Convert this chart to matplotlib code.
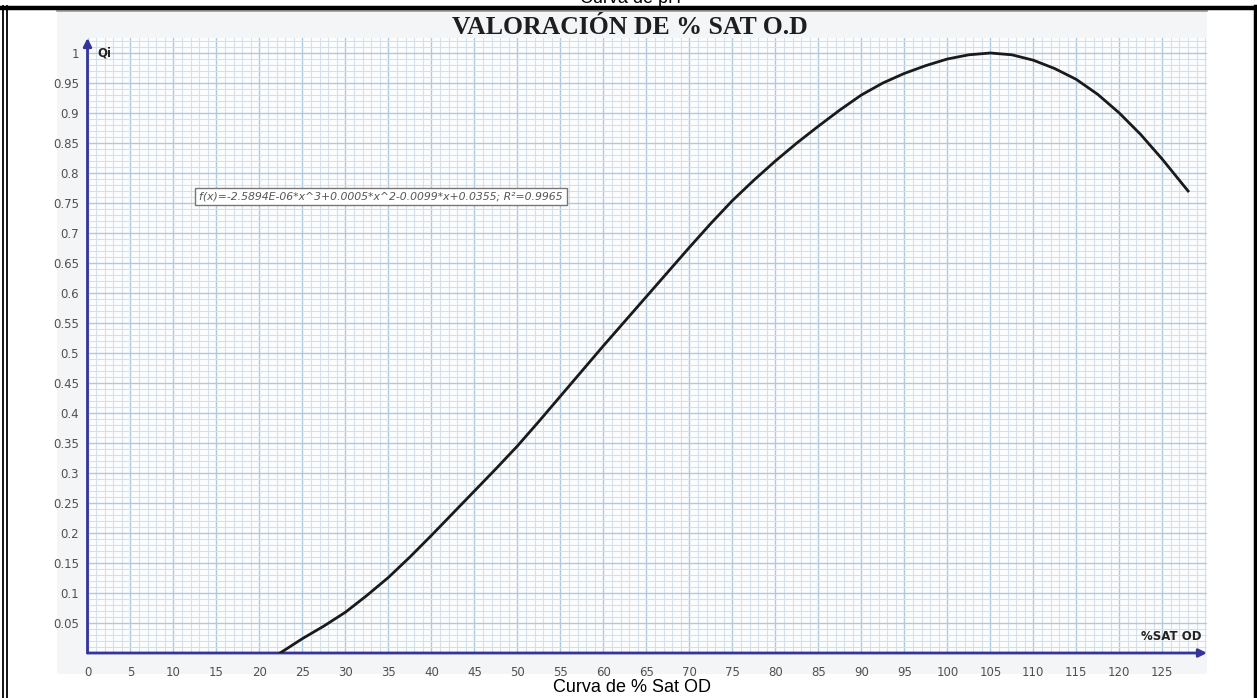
import matplotlib
matplotlib.use("Agg")
import matplotlib.pyplot as plt
from matplotlib.lines import Line2D
from matplotlib.patches import Rectangle
from matplotlib.ticker import MultipleLocator

# % saturacion de oxigeno disuelto vs. indice de calidad Qi
sat_od = [22.4, 25, 27.5, 30, 32.5, 35, 37.5, 40, 42.5, 45, 47.5, 50, 52.5,
          55, 57.5, 60, 62.5, 65, 67.5, 70, 72.5, 75, 77.5, 80, 82.5, 85,
          87.5, 90, 92.5, 95, 97.5, 100, 102.5, 105, 107.5, 110, 112.5, 115,
          117.5, 120, 122.5, 125, 128]
qi = [0.0, 0.024, 0.045, 0.068, 0.096, 0.126, 0.160, 0.196, 0.233, 0.270,
      0.307, 0.345, 0.386, 0.428, 0.470, 0.512, 0.553, 0.594, 0.635, 0.676,
      0.716, 0.754, 0.788, 0.820, 0.850, 0.878, 0.905, 0.930, 0.950, 0.966,
      0.979, 0.990, 0.997, 1.0, 0.997, 0.988, 0.974, 0.956, 0.931, 0.900,
      0.864, 0.823, 0.770]

x_ticks = list(range(0, 130, 5))
y_ticks = [round(0.05 * i, 2) for i in range(1, 21)]

equation = "f(x)=-2.5894E-06*x^3+0.0005*x^2-0.0099*x+0.0355; R\u00b2=0.9965"
title = "VALORACI\u00d3N DE % SAT O.D"
caption = "Curva de % Sat OD"

W, H = 1257, 698
navy = "#34349a"


def fx(px):
    return px / W


def fy(py):
    return 1 - py / H


fig = plt.figure(figsize=(W / 100, H / 100), dpi=100)
fig.patch.set_facecolor("white")

# grey backdrop of the embedded chart
fig.patches.append(Rectangle((fx(57), fy(674)), fx(1150), 664 / H,
                             transform=fig.transFigure, facecolor="#f4f5f6",
                             edgecolor="none", zorder=-5))
fig.lines.append(Line2D([fx(57), fx(1207)], [fy(11), fy(11)],
                        transform=fig.transFigure, color="#9a9a9a", lw=1.2))

ax = fig.add_axes([fx(87.5), fy(653), fx(1207 - 87.5), (653 - 38) / H])
ax.set_facecolor("#fcfdfe")
ax.set_xlim(0, 130.2)
ax.set_ylim(0, 1.025)

ax.set_xticks(x_ticks)
ax.set_xticklabels([str(v) for v in x_ticks])
ax.set_yticks(y_ticks)
ax.set_yticklabels(["{:g}".format(v) for v in y_ticks])
ax.xaxis.set_minor_locator(MultipleLocator(1))
ax.yaxis.set_minor_locator(MultipleLocator(0.01))
ax.tick_params(which="both", length=0)
ax.tick_params(axis="x", pad=9, labelsize=8.5, labelcolor="#505050")
ax.tick_params(axis="y", pad=6, labelsize=8.5, labelcolor="#505050")

ax.grid(which="minor", color="#d6e0ea", lw=0.8)
ax.grid(which="major", color="#b0c9de", lw=1.0)
ax.set_axisbelow(True)

for side in ["top", "right", "left", "bottom"]:
    ax.spines[side].set_visible(False)

# axes drawn as arrows
ax.annotate("", xy=(0, 1), xytext=(0, 0), xycoords="axes fraction",
            arrowprops=dict(arrowstyle="-|>", color=navy, lw=2,
                            mutation_scale=12, shrinkA=0, shrinkB=0))
ax.annotate("", xy=(1, 0), xytext=(0, 0), xycoords="axes fraction",
            arrowprops=dict(arrowstyle="-|>", color=navy, lw=2,
                            mutation_scale=12, shrinkA=0, shrinkB=0))

ax.plot(sat_od, qi, color="#1a1a1a", lw=2, zorder=3)

ax.text(1.2, 1.0, "Qi", fontsize=8.5, fontweight="bold", color="#222222",
        va="center", ha="left")
ax.text(129.6, 0.028, "%SAT OD", fontsize=8.5, fontweight="bold",
        color="#222222", va="center", ha="right")

eq = fig.text(fx(381), fy(196.5), equation, fontsize=7.8, style="italic",
              color="#555555", ha="center", va="center",
              bbox=dict(boxstyle="square,pad=0.35", facecolor="white",
                        edgecolor="#777777", lw=1))

fig.text(fx(630), fy(27), title, fontsize=18.5, fontweight="bold",
         family="Liberation Serif", color="#1e1e1e", ha="center", va="center")
fig.text(fx(632), fy(688), caption, fontsize=13, family="Liberation Sans",
         color="black", ha="center", va="center")
fig.text(fx(630), fy(3), "Curva de pH", fontsize=13, family="Liberation Sans",
         color="black", ha="center", va="baseline")

# underline under the equation text
fig.canvas.draw()
bb = eq.get_window_extent()
uy = bb.y0 - 1
fig.lines.append(Line2D([bb.x0 / W, bb.x1 / W], [uy / H, uy / H],
                        transform=fig.transFigure, color="#555555", lw=0.8))

# page frame
fig.lines.append(Line2D([0, 1], [fy(8), fy(8)], transform=fig.transFigure,
                        color="black", lw=3.2))
for px in (2.5, 7):
    fig.lines.append(Line2D([fx(px), fx(px)], [0, fy(6)],
                            transform=fig.transFigure, color="black", lw=1.3))
fig.lines.append(Line2D([fx(1254.5), fx(1254.5)], [0, fy(6)],
                        transform=fig.transFigure, color="black", lw=2.5))

fig.savefig("out.png", dpi=100)
